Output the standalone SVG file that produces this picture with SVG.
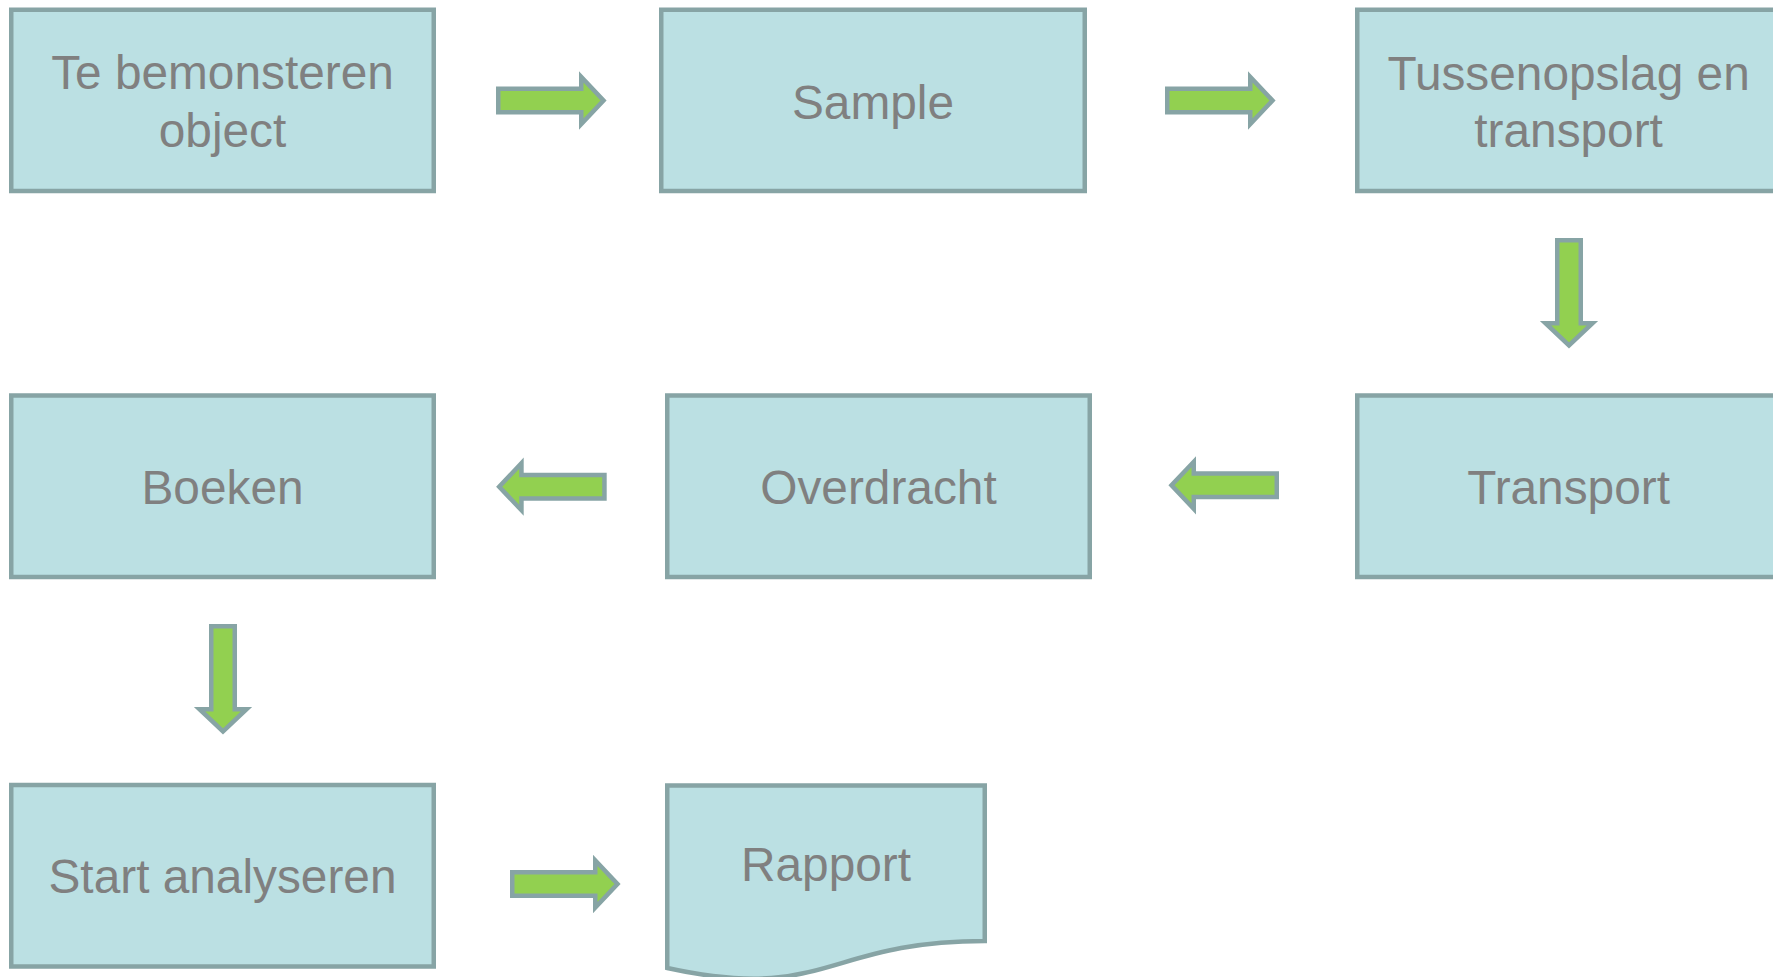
<svg xmlns="http://www.w3.org/2000/svg" xmlns:xlink="http://www.w3.org/1999/xlink" width="1773" height="977" viewBox="0 0 1773 977">
<style>
.box{fill:#bbe0e3;stroke:#87a4a5;stroke-width:4.5}
.arr{fill:#92d050;stroke:#87a4a5;stroke-width:4.5;stroke-miterlimit:10}
.lbl{font-family:"Liberation Sans",Arial,sans-serif;font-size:47.8px;fill:#808080;text-anchor:middle}
</style>
<defs>
<path id="arrow" d="M2.25,-11.75 H85.25 V-23.5 L107.5,0 L85.25,23.5 V11.75 H2.25 Z"/>
</defs>
<rect width="1773" height="977" fill="#ffffff"/>
<g id="connectors">
<use xlink:href="#arrow" href="#arrow" class="arr" transform="translate(496,100.5)"/>
<use xlink:href="#arrow" href="#arrow" class="arr" transform="translate(1165,100.5)"/>
<use xlink:href="#arrow" href="#arrow" class="arr" transform="translate(1569,238) rotate(90)"/>
<use xlink:href="#arrow" href="#arrow" class="arr" transform="translate(1279,485.3) scale(-1,1)"/>
<use xlink:href="#arrow" href="#arrow" class="arr" transform="translate(606.7,486.7) scale(-1,1)"/>
<use xlink:href="#arrow" href="#arrow" class="arr" transform="translate(223,624) rotate(90)"/>
<use xlink:href="#arrow" href="#arrow" class="arr" transform="translate(510,884)"/>
</g>
<g id="node-object">
<rect class="box" x="11.25" y="9.75" width="422.5" height="181.25"/>
<text class="lbl" x="222.5" y="89.3">Te bemonsteren</text>
<text class="lbl" x="222.5" y="146.7">object</text>
</g>
<g id="node-sample">
<rect class="box" x="661.25" y="9.75" width="423.5" height="181.25"/>
<text class="lbl" x="873" y="119.3">Sample</text>
</g>
<g id="node-tussenopslag">
<rect class="box" x="1357.25" y="9.75" width="423" height="181.25"/>
<text class="lbl" x="1568.6" y="89.8">Tussenopslag en</text>
<text class="lbl" x="1568.6" y="147">transport</text>
</g>
<g id="node-transport">
<rect class="box" x="1357.25" y="395.5" width="423" height="181.5"/>
<text class="lbl" x="1568.6" y="504">Transport</text>
</g>
<g id="node-overdracht">
<rect class="box" x="667.25" y="395.5" width="422.5" height="181.5"/>
<text class="lbl" x="878.5" y="504">Overdracht</text>
</g>
<g id="node-boeken">
<rect class="box" x="11.25" y="395.5" width="422.5" height="181.5"/>
<text class="lbl" x="222.5" y="504">Boeken</text>
</g>
<g id="node-start">
<rect class="box" x="11.25" y="785" width="422.5" height="181.5"/>
<text class="lbl" x="222.5" y="892.7">Start analyseren</text>
</g>
<g id="node-rapport">
<path class="box" d="M667.25,785.5 H984.75 V941 C826,941 826,1003 667.25,968 Z"/>
<text class="lbl" x="826" y="881">Rapport</text>
</g>
</svg>
